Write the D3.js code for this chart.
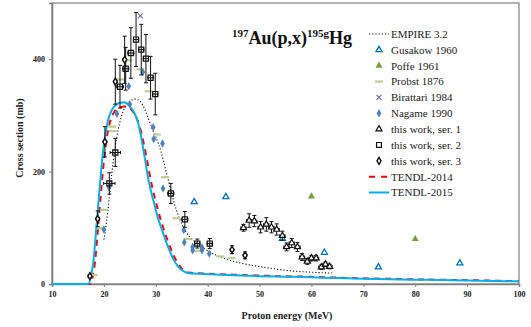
<!DOCTYPE html>
<html><head><meta charset="utf-8">
<script src="https://cdn.jsdelivr.net/npm/d3@7"></script>
<style>html,body{margin:0;padding:0;background:#fff;}svg{display:block;}</style>
</head><body>
<svg id="c" width="531" height="327"></svg>
<script>
// ---------- data ----------
const xTicks = [10,20,30,40,50,60,70,80,90,100];
const yTicks = [0,200,400];

const tendl15E = [10,17.0,17.5,18.0,18.5,19.0,19.5,20.0,20.5,21.0,21.5,22.0,22.5,23.0,23.5,24.0,24.5,25.0,25.5,26.0,26.5,27.0,27.5,28.0,28.5,29.0,29.5,30.0,30.5,31.0,31.5,32.0,32.5,33.0,33.5,34.0,34.5,35.0,35.5,36.0,36.5,37,40,45,50,55,60,65,70,75,80,85,90,95,100];
const tendl15V = [0,0,14,42,95,150,205,248,278,298,309,316,320,322,323,323,321,316,310,302,290,270,245,218,190,168,150,132,115,101,88,75,63,52,42,35,29,25,22,20,19,18.8,17.5,15.5,14,13,12,10.5,9.5,8.5,7.7,7,6.3,5.5,4.7];

const tendl14E = [10,17.3,17.8,18.3,18.8,19.3,19.8,20.3,20.8,21.3,21.8,22.3,22.8,23.3,23.8,24.3,24.8,25.3,25.8,26.3,26.8,27.3,27.8,28.3,28.8,29.3,29.8,30.3,30.8,31.3,31.8,32.3,32.8,33.3,33.8,34.3,34.8,35.3,35.8,36.3,36.8,37.3,40,45,50,55,60,65,70,75,80,85,90,95,100];
const tendl14V = [0,0,12,40,92,148,200,243,273,292,303,310,313,315,316,316,314,310,304,295,283,266,245,221,196,173,154,136,119,104,90,77,65,54,44,36,30,25,22,20.5,20,19.5,18.5,16.5,15,13.8,12.8,11.3,10.2,9.2,8.3,7.5,6.8,6,5];

const empireE = [20.0,20.5,21,21.5,22,22.5,23,23.5,24,24.5,25,25.5,26,26.5,27,27.5,28,28.5,29,29.5,30,30.5,31,31.5,32,32.5,33,33.5,34,34.5,35,35.5,36,37,38,39,40,42,44,46,48,50,52,54,56,58,60,62,64];
const empireV = [79,110,150,195,232,262,285,302,313,320,325,328,329,328,325,318,308,296,284,272,262,250,236,218,200,182,163,146,131,118,107,98,90,80,72,65,59,50,43,38,34,31,28,25.5,23.5,22,21,20,19.5];

const gusakowE = [37.4,43.5,54.4,62.5,72.9,88.6];
const gusakowV = [146,155,81,56,30,37];

const poffeE = [60.0,80.0];
const poffeV = [156,80];

const probstE = [18.0,19.4,20.0,21.6,21.7,23.1,24.7,27.0,28.6,30.2,31.8,34.0,36.1,38.1,42.4,44.6];
const probstV = [16,99,132,280,272,364,398,382,343,266,190,117,80,59,49,46];

const birattariE = [27.0];
const birattariV = [477];

const nagameE = [20.0,21.0,22.5,24.8,25.0,27.5,29.5,29.6,31.3,31.4,35.4,35.5,37.1,37.1,38.9,38.9,40.3];
const nagameV = [97,172,303,352,320,377,279,258,250,170,96,74,66,60,65,60,54];

const ser1E = [46.9,48.0,49.0,50.2,51.3,52.3,53.3,54.4,55.2,56.2,57.3,58.2,59.2,60.0,60.9,61.9,62.7,63.5];
const ser1V = [100,113,112,101,106,101,97,86,66,73,66,48,40,46,46,30,35,31];
const ser1Err = [6,12,10,10,12,10,10,8,7,8,8,6,5,5,5,4,4,4];

const ser2E = [21.05,22.2,23.1,24.2,25.2,26.2,27.2,28.1,29.0,29.9,32.9,35.6,38.0,40.4];
const ser2V = [179,234,351,383,411,435,417,401,367,338,161,115,72,72];
const ser2Err = [19,25,38,38,45,48,45,43,38,37,18,14,8,9];
const ser2HErr = [1.1,1.0,0.7,0.6,0.6,0.5,0.5,0.5,0.5,0.5,0.6,0.6,0.5,0.5];

const ser3E = [17.3,18.8,20.2,22.2,24.0,44.7,47.2];
const ser3V = [14,116,253,360,399,61,51];
const ser3Err = [3,14,27,40,42,7,6];

const legendLabels = ["EMPIRE 3.2","Gusakow 1960","Poffe 1961","Probst 1876","Birattari 1984","Nagame 1990","this work, ser. 1","this work, ser. 2","this work, ser. 3","TENDL-2014","TENDL-2015"];

// ---------- chart ----------
const FONT = "'Liberation Serif','Times New Roman',serif";
const C = {tendl15:"#00B0F0", tendl14:"#FF0000", gus:"#0070C0", poffe:"#77A03F", probst:"#B9CF94", bir:"#8064A2", nag:"#4F81BD"};
const svg = d3.select("#c");
const x = d3.scaleLinear().domain([10,100]).range([52,519]);
const y = d3.scaleLinear().domain([0,500]).range([284,3]);
const zip = (E,V)=>E.map((e,i)=>({e:e,v:V[i],i:i}));

// frame
svg.append("rect").attr("x",52).attr("y",3).attr("width",467).attr("height",281)
  .attr("fill","none").attr("stroke","#7f7f7f").attr("stroke-width",1.2);

// axes
const xAxis = svg.append("g").attr("transform","translate(0,284)")
  .call(d3.axisBottom(x).tickValues(xTicks).tickSize(3).tickFormat(d3.format("d")));
const yAxis = svg.append("g").attr("transform","translate(52,0)")
  .call(d3.axisLeft(y).tickValues(yTicks).tickSize(3).tickFormat(d3.format("d")));
[xAxis,yAxis].forEach(g=>{
  g.select(".domain").attr("stroke","#7f7f7f").attr("stroke-width",1.6);
  g.selectAll(".tick line").attr("stroke","#7f7f7f");
  g.selectAll(".tick text").attr("font-family",FONT).attr("font-size",8).attr("font-weight","bold").attr("fill","#222");
});
xAxis.selectAll(".tick text").attr("dy","0.9em");
yAxis.selectAll(".tick text").attr("dx","-1");

svg.append("text").attr("x",287).attr("y",319).attr("text-anchor","middle")
  .attr("font-family",FONT).attr("font-size",10).attr("font-weight","bold").attr("fill","#222")
  .text("Proton energy (MeV)");
svg.append("text").attr("transform","translate(23,138) rotate(-90)").attr("text-anchor","middle")
  .attr("font-family",FONT).attr("font-size",10).attr("font-weight","bold").attr("fill","#222")
  .text("Cross section (mb)");

// title
const t = svg.append("text").attr("x",232).attr("y",44).attr("font-family",FONT).attr("font-weight","bold").attr("font-size",18).attr("fill","#111");
t.append("tspan").attr("font-size",11).attr("dy",-7).text("197");
t.append("tspan").attr("dy",7).text("Au(p,x)");
t.append("tspan").attr("font-size",11).attr("dy",-7).text("195g");
t.append("tspan").attr("dy",7).text("Hg");

const line = d3.line().x(d=>x(d.e)).y(d=>y(d.v)).curve(d3.curveMonotoneX);
const plot = svg.append("g");

// model curves
plot.append("path").datum(zip(empireE,empireV)).attr("d",line).attr("fill","none")
  .attr("stroke","#111").attr("stroke-width",1.1).attr("stroke-dasharray","1.2,2");
plot.append("path").datum(zip(tendl14E,tendl14V)).attr("d",line).attr("fill","none")
  .attr("stroke",C.tendl14).attr("stroke-width",2).attr("stroke-dasharray","6,5");
plot.append("path").datum(zip(tendl15E,tendl15V)).attr("d",line).attr("fill","none")
  .attr("stroke",C.tendl15).attr("stroke-width",2);

// symbol helpers
const sym = (type,size)=>d3.symbol().type(type).size(size)();
function drawErr(g,data,err,herr){
  data.forEach((d,i)=>{
    const cx=x(d.e), cy=y(d.v);
    if(err && err[i]){
      const y1=y(d.v+err[i]), y2=y(d.v-err[i]);
      g.append("line").attr("x1",cx).attr("x2",cx).attr("y1",y1).attr("y2",y2).attr("stroke","#111").attr("stroke-width",1);
      g.append("line").attr("x1",cx-2).attr("x2",cx+2).attr("y1",y1).attr("y2",y1).attr("stroke","#111").attr("stroke-width",1);
      g.append("line").attr("x1",cx-2).attr("x2",cx+2).attr("y1",y2).attr("y2",y2).attr("stroke","#111").attr("stroke-width",1);
    }
    if(herr){
      const h = Array.isArray(herr)?herr[i]:herr;
      const x1=x(d.e-h), x2=x(d.e+h);
      g.append("line").attr("x1",x1).attr("x2",x2).attr("y1",cy).attr("y2",cy).attr("stroke","#111").attr("stroke-width",1);
      g.append("line").attr("x1",x1).attr("x2",x1).attr("y1",cy-1.5).attr("y2",cy+1.5).attr("stroke","#111").attr("stroke-width",1);
      g.append("line").attr("x1",x2).attr("x2",x2).attr("y1",cy-1.5).attr("y2",cy+1.5).attr("stroke","#111").attr("stroke-width",1);
    }
  });
}
function drawSym(g,data,type,size,fill,stroke,sw){
  g.selectAll(null).data(data).enter().append("path")
    .attr("transform",d=>`translate(${x(d.e)},${y(d.v)})`)
    .attr("d",sym(type,size)).attr("fill",fill).attr("stroke",stroke).attr("stroke-width",sw||1);
}
function drawDash(g,data,color){
  g.selectAll(null).data(data).enter().append("line")
    .attr("x1",d=>x(d.e)-4).attr("x2",d=>x(d.e)+4).attr("y1",d=>y(d.v)).attr("y2",d=>y(d.v))
    .attr("stroke",color).attr("stroke-width",2.2);
}

// literature data
drawDash(plot,zip(probstE,probstV),C.probst);
drawSym(plot,zip(nagameE,nagameV),d3.symbolDiamond,20,C.nag,"none");
drawSym(plot,zip(gusakowE,gusakowV),d3.symbolTriangle,16,"#fff",C.gus,1.3);
drawSym(plot,zip(poffeE,poffeV),d3.symbolTriangle,22,C.poffe,"none");
drawSym(plot,zip(birattariE,birattariV),d3.symbolX,18,"none",C.bir,1.2);
// this work
const s1 = zip(ser1E,ser1V), s2 = zip(ser2E,ser2V), s3 = zip(ser3E,ser3V);
drawErr(plot,s1,ser1Err,0.5);
drawErr(plot,s2,ser2Err,ser2HErr);
drawErr(plot,s3,ser3Err,0.35);
drawSym(plot,s1,d3.symbolTriangle,16,"#fff","#111",1.2);
drawSym(plot,s2,d3.symbolSquare,26,"none","#111",1.2);
drawSym(plot,s3,d3.symbolDiamond,14,"#fff","#111",1.4);

// legend
const lg = svg.append("g");
const lx0=369, lx1=389, ltx=391, ly0=34, ldy=15.85;
legendLabels.forEach((lab,i)=>{
  const yy = ly0 + i*ldy;
  lg.append("text").attr("x",ltx).attr("y",yy).attr("dy","0.35em").attr("font-family",FONT)
    .attr("font-size",11).attr("fill","#222").text(lab);
});
const ly = i=> ly0 + i*ldy;
const sx = 379;
lg.append("line").attr("x1",lx0).attr("x2",lx1).attr("y1",ly(0)).attr("y2",ly(0)).attr("stroke","#111").attr("stroke-width",1.1).attr("stroke-dasharray","1.2,2");
lg.append("path").attr("transform",`translate(${sx},${ly(1)})`).attr("d",sym(d3.symbolTriangle,16)).attr("fill","#fff").attr("stroke",C.gus).attr("stroke-width",1.3);
lg.append("path").attr("transform",`translate(${sx},${ly(2)})`).attr("d",sym(d3.symbolTriangle,22)).attr("fill",C.poffe);
lg.append("line").attr("x1",sx-4).attr("x2",sx+4).attr("y1",ly(3)).attr("y2",ly(3)).attr("stroke",C.probst).attr("stroke-width",2.2);
lg.append("path").attr("transform",`translate(${sx},${ly(4)})`).attr("d",sym(d3.symbolX,18)).attr("fill","none").attr("stroke",C.bir).attr("stroke-width",1.2);
lg.append("path").attr("transform",`translate(${sx},${ly(5)})`).attr("d",sym(d3.symbolDiamond,20)).attr("fill",C.nag);
lg.append("path").attr("transform",`translate(${sx},${ly(6)})`).attr("d",sym(d3.symbolTriangle,16)).attr("fill","#fff").attr("stroke","#111").attr("stroke-width",1.2);
lg.append("path").attr("transform",`translate(${sx},${ly(7)})`).attr("d",sym(d3.symbolSquare,24)).attr("fill","#fff").attr("stroke","#111").attr("stroke-width",1.2);
lg.append("path").attr("transform",`translate(${sx},${ly(8)})`).attr("d",sym(d3.symbolDiamond,14)).attr("fill","#fff").attr("stroke","#111").attr("stroke-width",1.4);
lg.append("line").attr("x1",lx0).attr("x2",lx1).attr("y1",ly(9)).attr("y2",ly(9)).attr("stroke",C.tendl14).attr("stroke-width",2).attr("stroke-dasharray","6,6");
lg.append("line").attr("x1",lx0).attr("x2",lx1).attr("y1",ly(10)).attr("y2",ly(10)).attr("stroke",C.tendl15).attr("stroke-width",2);
</script>
</body></html>
